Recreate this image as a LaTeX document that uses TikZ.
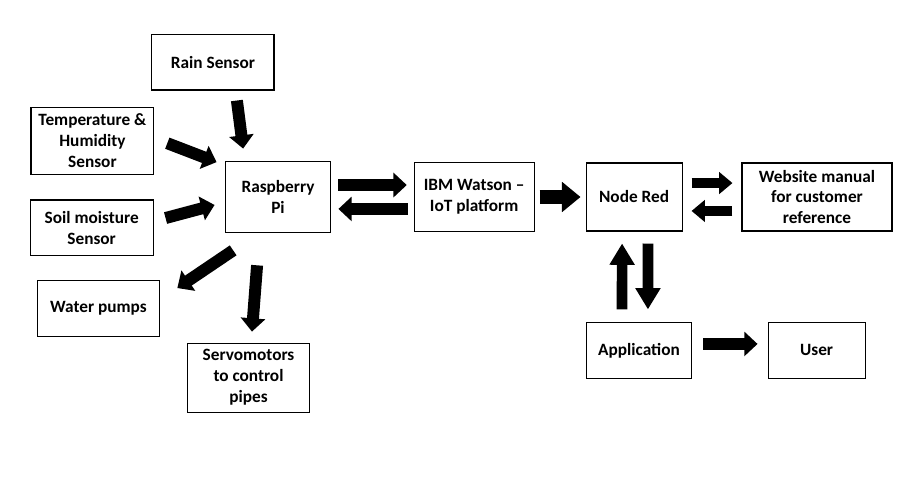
\documentclass[tikz,border=0pt]{standalone}
\usepackage{fontspec}
\setmainfont{Carlito}
\usetikzlibrary{arrows.meta}

\begin{document}
\begin{tikzpicture}
    \tikzstyle{arrow} = [line width = 9pt, -{Triangle[length = 10pt, width = 18pt]}]
    \tikzstyle{fatarrow} = [line width = 11pt, -{Triangle[length = 14pt, width = 22pt]}]
    \tikzstyle{slimarrow} = [line width = 7.5pt, -{Triangle[length = 10pt, width = 16pt]}]
    \tikzstyle{uparrow} = [line width = 8pt, -{Triangle[length = 16pt, width = 18pt]}]
    \tikzstyle{block} = [rectangle, draw = black, line width = 0.8pt, align = center, font = \bfseries\fontsize{13}{15.8}\selectfont]
    \useasboundingbox (-7.355,-7.541) rectangle (16.80,5.212);

    \node[block, minimum width = 2.8cm, minimum height = 1.9cm](Pi){Raspberry\\Pi};
    \node[block, right of = Pi, xshift = 4.19cm, minimum width = 3.17cm, minimum height = 1.83cm](IBM){IBM Watson --\\IoT platform};
    \node[block, right of = IBM, xshift = 3.23cm, minimum width = 2.54cm, minimum height = 1.8cm](NR){Node Red};
    \node[block, right of = NR, xshift = 3.84cm, minimum width = 3.97cm, minimum height = 1.8cm](Web){Website manual\\for customer\\reference};
    \node[block, below of = NR, yshift = -3.06cm, xshift = 0.13cm, minimum width = 2.8cm, minimum height = 1.46cm](App){Application};
    \node[block, right of = App, xshift = 3.7cm, minimum width = 2.57cm, minimum height = 1.46cm](User){User};

    \node[block, above of = Pi, yshift = 2.57cm, xshift = -1.72cm, minimum width = 3.23cm, minimum height = 1.48cm](Rain){Rain Sensor};
    \node[block, left of = Pi, xshift = -3.91cm, yshift = 1.49cm, minimum width = 3.25cm, minimum height = 1.77cm](Temp){Temperature \&\\Humidity\\Sensor};
    \node[block, left of = Pi, xshift = -3.93cm, yshift = -0.82cm, minimum width = 3.25cm, minimum height = 1.48cm](Soil){Soil moisture\\Sensor};
    \node[block, left of = Pi, xshift = -3.75cm, yshift = -2.95cm, minimum width = 3.25cm, minimum height = 1.46cm](Pump){Water pumps};
    \node[block, below of = Pi, yshift = -3.78cm, xshift = -0.78cm, minimum width = 3.25cm, minimum height = 1.83cm](Servo){Servomotors\\to control\\pipes};

    \draw[arrow] ([xshift = 18pt, yshift = -7.5pt]Rain.south)--([xshift = -26.25pt, yshift = 9pt]Pi.north);
    \draw[arrow] ([xshift = 9.75pt, yshift = -1.9pt]Temp.east)--([xshift = -6pt, yshift = 26.25pt]Pi.west);
    \draw[arrow] ([xshift = 9pt, yshift = 7.5pt]Soil.east)--([xshift = -7.5pt, yshift = -6pt]Pi.west);
    \draw[arrow] ([xshift = -33.75pt, yshift = -12.75pt]Pi.south)--([xshift = 12.75pt, yshift = 15.4pt]Pump.east);
    \draw[arrow] ([xshift = -15.75pt, yshift = -24pt]Pi.south)--([xshift = 2.6pt, yshift = 8.25pt]Servo.north);

    \draw[arrow, shorten < = 5.25pt, shorten > = 5.25pt] ([yshift = 9pt]Pi.east)--([yshift = 9pt]IBM.west);
    \draw[arrow, shorten < = 4.5pt, shorten > = 5.25pt] ([yshift = -9pt]IBM.west)--([yshift = -9pt]Pi.east);
    \draw[fatarrow, shorten < = 3.75pt, shorten > = 3.75pt] (IBM)--(NR);
    \draw[slimarrow, shorten < = 6.75pt, shorten > = 6.75pt] ([yshift = 10.5pt]NR.east)--([yshift = 10.5pt]Web.west);
    \draw[slimarrow, shorten < = 6.75pt, shorten > = 6.75pt] ([yshift = -10.5pt]Web.west)--([yshift = -10.5pt]NR.east);
    \draw[uparrow, shorten < = 9.75pt, shorten > = 9pt] ([xshift = -12.75pt]App.north)--([xshift = -9pt]NR.south);
    \draw[uparrow, shorten < = 9pt, shorten > = 9.75pt] ([xshift = 10.5pt]NR.south)--([xshift = 6.75pt]App.north);
    \draw[arrow, shorten < = 8.25pt, shorten > = 7.5pt] ([yshift = 4.9pt]App.east)--([yshift = 4.9pt]User.west);

\end{tikzpicture}
\end{document}
